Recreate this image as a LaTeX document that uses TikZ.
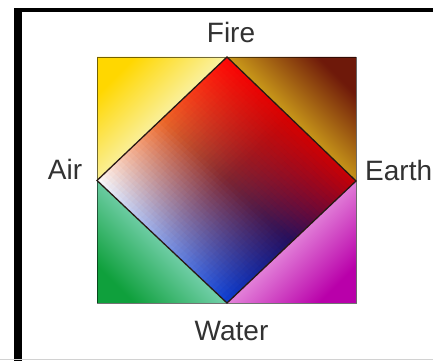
\documentclass[tikz,border=0pt]{standalone}
\usepackage{fontspec}
\setmainfont{Liberation Sans}
\definecolor{txt}{RGB}{50,50,50}
\definecolor{dline}{RGB}{40,25,20}
% diamond control colours
\definecolor{dAir}{RGB}{255,255,255}
\definecolor{dLT}{RGB}{240,105,40}
\definecolor{dFire}{RGB}{255,5,5}
\definecolor{dLB}{RGB}{135,158,230}
\definecolor{dC}{RGB}{125,38,50}
\definecolor{dTR}{RGB}{215,0,0}
\definecolor{dWater}{RGB}{10,60,210}
\definecolor{dBR}{RGB}{35,15,95}
\definecolor{dEarth}{RGB}{200,0,5}
% triangle colours
\definecolor{yT}{RGB}{255,215,0}
\definecolor{yM}{RGB}{250,240,155}
\definecolor{bT}{RGB}{110,25,10}
\definecolor{bM}{RGB}{200,150,25}
\definecolor{gM}{RGB}{110,205,165}
\definecolor{gB}{RGB}{15,160,60}
\definecolor{pM}{RGB}{225,125,215}
\definecolor{pB}{RGB}{185,0,170}
\tikzset{lbl/.style={font=\fontsize{28}{28}\selectfont, text=txt, inner sep=0pt, anchor=base}}
\newcommand\dquad[6]{%
  \foreach \i in {0,...,19}{%
    \foreach \j in {0,...,19}{%
      \pgfmathsetmacro\pa{(\i+0.5)*5}%
      \pgfmathsetmacro\pb{(\j+0.5)*5}%
      \colorlet{ra}{#4!\pa!#3}%
      \colorlet{rb}{#6!\pa!#5}%
      \colorlet{cc}{rb!\pb!ra}%
      \fill[cc] ({#1+\i/40-0.003},{#2+\j/40-0.003}) -- ++(0.031,0) -- ++(0,0.031) -- ++(-0.031,0) -- cycle;
    }%
  }%
}
\begin{document}
\begin{tikzpicture}[x=1pt,y=1pt]
\clip (0,0) rectangle (433,361);
\fill[white] (0,0) rectangle (433,361);
% frame
\fill[black] (14,0) rectangle (22,353);
\fill[black] (14,349) rectangle (433,353);
\draw[gray!35, line width=1pt] (0,2) -- (433,2);
% geometry
\coordinate (L) at (97,180.5);
\coordinate (T) at (227,304);
\coordinate (R) at (356,180);
\coordinate (B) at (227,58);
\coordinate (TLc) at (97,304);
\coordinate (TRc) at (356,304);
\coordinate (BLc) at (97,58);
\coordinate (BRc) at (356,58);
% corner triangles
\shade[top color=yT, bottom color=yM, middle color=yM, shading angle=45] (TLc) -- (T) -- (L) -- cycle;
\shade[top color=bT, bottom color=bM, middle color=bM, shading angle=-45] (TRc) -- (R) -- (T) -- cycle;
\shade[top color=gM, bottom color=gB, middle color=gM, shading angle=-45] (BLc) -- (L) -- (B) -- cycle;
\shade[top color=pM, bottom color=pB, middle color=pM, shading angle=45] (BRc) -- (B) -- (R) -- cycle;
% diamond
\begin{scope}
\clip (L) -- (T) -- (R) -- (B) -- cycle;
\begin{scope}[shift={(L)}, x={(130pt,123.5pt)}, y={(130pt,-122.5pt)}]
\dquad{0}{0}{dAir}{dLT}{dLB}{dC}
\dquad{0.5}{0}{dLT}{dFire}{dC}{dTR}
\dquad{0}{0.5}{dLB}{dC}{dWater}{dBR}
\dquad{0.5}{0.5}{dC}{dTR}{dBR}{dEarth}
\end{scope}
\end{scope}
% outlines
\draw[line width=0.8pt, black, opacity=0.55] (BLc) rectangle (TRc);
\draw[line width=1.3pt, dline, line join=miter] (L) -- (T) -- (R) -- (B) -- cycle;
% labels
\node[lbl] (fire) at (231,318) {Fire};
\node[lbl] (water) at (231.5,21) {Water};
\node[lbl] (air) at (65,181) {Air};
\node[lbl, anchor=base west] (earth) at (365,180) {Earth};
\end{tikzpicture}
\end{document}
